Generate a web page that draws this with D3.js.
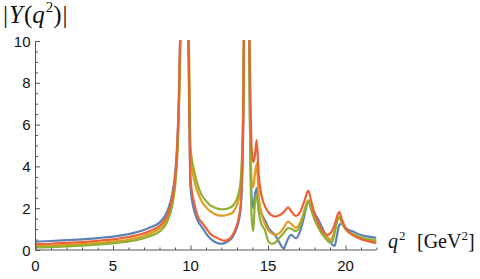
<!DOCTYPE html>
<html><head><meta charset="utf-8">
<script src="https://cdn.jsdelivr.net/npm/d3@7"></script>
<style>html,body{margin:0;padding:0;background:#fff;overflow:hidden}</style>
</head><body>
<svg id="c" width="480" height="279"></svg>
<script>
const q2 = [0,1,2,3,4,5,6,7,7.5,8,8.5,8.8,9.0,9.15,9.3,9.45,9.55,
  9.65,9.75,9.88,10.0,10.25,10.5,10.75,11.0,11.25,11.5,11.8,12.0,12.2,12.45,12.7,12.9,13.1,13.25,
  13.4,13.5,13.58,13.66,13.75,13.85,13.95,14.05,14.15,14.27,
  14.4,14.6,14.8,15.0,15.2,15.45,15.7,16.0,16.3,16.5,16.8,17.1,17.35,17.6,17.8,18.0,18.3,18.6,18.8,19.0,19.15,19.3,19.45,19.6,19.75,20.0,20.5,21.0,21.5,22.0];
const blue = [0.40,0.43,0.47,0.51,0.57,0.64,0.76,0.96,1.11,1.31,1.85,2.6,3.6,5.2,9.0,18,45,
  45,18,9,3.0,1.85,1.35,1.08,0.8,0.57,0.42,0.32,0.30,0.33,0.42,0.6,0.9,1.35,2.1,
  5.8,15,50,50,14,5.5,2.5,2.0,2.6,2.96,
  2.2,1.7,1.43,1.1,0.9,0.72,0.4,0.08,0.55,0.72,0.56,0.95,1.65,2.35,2.05,1.76,1.38,0.9,0.65,0.45,0.25,0.2,0.7,1.2,1.25,1.05,0.88,0.72,0.64,0.58];
const orange = [0.19,0.21,0.24,0.28,0.33,0.40,0.50,0.68,0.82,1.02,1.50,2.25,3.25,4.8,8.6,18,45,
  45,18,10.5,4.5,3.3,2.7,2.3,2.05,1.87,1.75,1.66,1.64,1.65,1.7,1.78,2.0,2.4,3.1,
  6.7,15,50,50,14,6.5,3.2,3.0,3.6,4.15,
  2.6,1.7,1.25,0.96,0.82,0.72,0.78,1.05,1.36,1.25,1.06,1.35,1.9,2.39,1.95,1.55,1.1,0.78,0.6,0.5,0.6,0.95,1.4,1.55,1.35,1.0,0.72,0.57,0.47,0.40];
const green = [0.12,0.14,0.17,0.21,0.26,0.32,0.41,0.57,0.70,0.88,1.35,2.05,3.0,4.5,8.3,17,45,
  45,18,11,4.9,3.75,3.03,2.6,2.35,2.15,2.05,1.97,1.95,1.96,2.0,2.1,2.3,2.7,3.4,
  7.0,15,50,50,14,5.0,1.5,0.9,2.2,2.63,
  1.8,1.2,0.96,0.45,0.3,0.35,0.55,0.8,1.05,1.02,0.9,1.2,1.8,2.35,1.9,1.45,1.0,0.65,0.48,0.35,0.4,0.8,1.35,1.58,1.35,1.0,0.75,0.6,0.52,0.45];
const red = [0.28,0.30,0.34,0.38,0.44,0.51,0.62,0.80,0.95,1.15,1.65,2.4,3.4,5.0,8.8,18,45,
  45,18,9.5,3.4,2.2,1.55,1.3,1.05,0.8,0.65,0.55,0.48,0.45,0.5,0.7,1.0,1.5,2.3,
  6.0,15,50,50,14,8,4.8,4.2,4.5,5.26,
  3.6,2.55,2.1,1.83,1.68,1.6,1.65,1.8,2.04,1.85,1.63,1.85,2.35,2.84,2.3,1.75,1.2,0.85,0.72,0.78,0.95,1.2,1.6,1.83,1.5,1.05,0.7,0.52,0.41,0.33];
const seriesNames = ["blue","orange","green","red"];
const seriesColors = ["#5E81B5","#E19C24","#8FB032","#EB6235"];
const xTicks = [0,5,10,15,20];
const yTicks = [0,2,4,6,8,10];

const svg = d3.select("#c");
const x = d3.scaleLinear().domain([0,22]).range([35.5,376.5]);
const y = d3.scaleLinear().domain([0,10]).range([250,41]);
const axisColor = "#555";

svg.append("clipPath").attr("id","clip").append("rect")
  .attr("x",x(0)).attr("y",y(10)-1).attr("width",x(22)-x(0)).attr("height",y(0)-y(10)+12);

const line = d3.line().x((d,i)=>x(q2[i])).y(d=>y(d)).curve(d3.curveMonotoneX);
const data = [blue,orange,green,red];
const g = svg.append("g").attr("clip-path","url(#clip)");
data.forEach((s,k)=>{
  g.append("path").attr("d",line(s)).attr("fill","none")
   .attr("stroke",seriesColors[k]).attr("stroke-width",2.2).attr("stroke-linejoin","round");
});

// axes
const xAxis = d3.axisTop(x).tickValues(xTicks).tickSize(4.5).tickFormat("");
const xMinor = d3.axisTop(x).tickValues(d3.range(0,23,1).filter(v=>v%5!==0)).tickSize(2.5).tickFormat("");
const yAxis = d3.axisRight(y).tickValues(yTicks).tickSize(4.5).tickFormat("");
const yMinor = d3.axisRight(y).tickValues(d3.range(0,10.01,0.5).filter(v=>v%2!==0)).tickSize(2.5).tickFormat("");
function style(sel){ sel.selectAll("path").attr("stroke",axisColor).attr("stroke-width",1);
  sel.selectAll("line").attr("stroke",axisColor).attr("stroke-width",1); }
svg.append("g").attr("transform",`translate(0,${y(0)})`).call(xAxis).call(style).select(".domain").attr("d",`M${x(0)},0H${x(22)}`);
svg.append("g").attr("transform",`translate(0,${y(0)})`).call(xMinor).call(style).select(".domain").remove();
svg.append("g").attr("transform",`translate(${x(0)},0)`).call(yAxis).call(style).select(".domain").attr("d",`M0,${y(0)}V${y(10)}`);
svg.append("g").attr("transform",`translate(${x(0)},0)`).call(yMinor).call(style).select(".domain").remove();

// tick labels
svg.append("g").selectAll("text").data(xTicks).join("text")
  .attr("x",d=>x(d)).attr("y",271).attr("text-anchor","middle")
  .attr("font-family","Liberation Sans, Arial, sans-serif").attr("font-size",15).attr("fill","#111")
  .text(d=>d);
svg.append("g").selectAll("text").data(yTicks).join("text")
  .attr("x",30.5).attr("y",d=>y(d)+5.5).attr("text-anchor","end")
  .attr("font-family","Liberation Sans, Arial, sans-serif").attr("font-size",15).attr("fill","#111")
  .text(d=>d);

// axis labels
const yl = svg.append("text").attr("x",3).attr("y",22.5)
  .attr("font-family","Liberation Serif, Times New Roman, serif").attr("font-size",25).attr("fill","#111");
yl.append("tspan").text("|");
yl.append("tspan").attr("font-style","italic").attr("dx",1).text("Y");
yl.append("tspan").attr("dx",1).text("(");
yl.append("tspan").attr("font-style","italic").text("q");
yl.append("tspan").attr("font-size",15).attr("dy",-11).attr("dx",1).text("2");
yl.append("tspan").attr("dy",11).text(")");
yl.append("tspan").attr("dx",1).text("|");

const xl = svg.append("text").attr("x",388).attr("y",247.5)
  .attr("font-family","Liberation Serif, Times New Roman, serif").attr("font-size",20).attr("fill","#111");
xl.append("tspan").attr("font-style","italic").text("q");
xl.append("tspan").attr("font-size",13).attr("dy",-8).attr("dx",1).text("2");
xl.append("tspan").attr("dy",8).attr("x",417).text("[GeV");
xl.append("tspan").attr("font-size",13).attr("dy",-8).text("2");
xl.append("tspan").attr("dy",8).text("]");
</script>
</body></html>
